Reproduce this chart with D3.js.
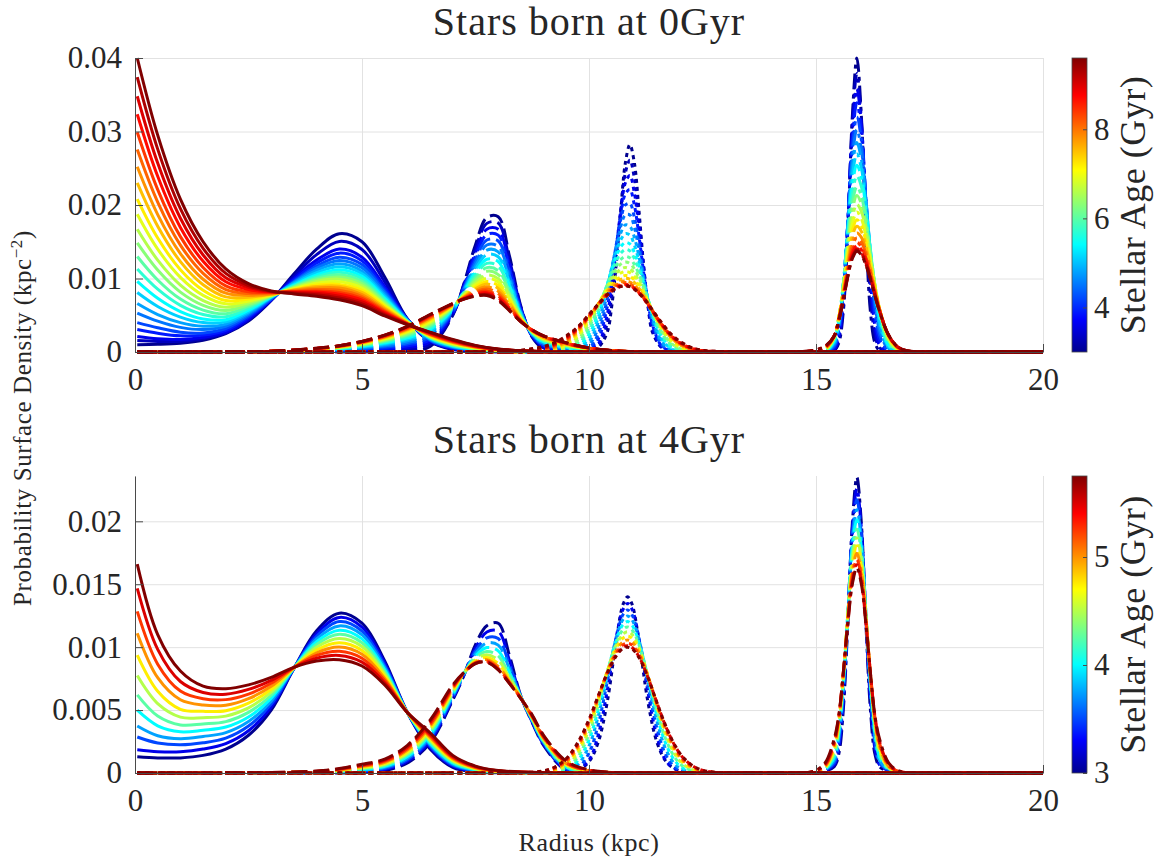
<!DOCTYPE html>
<html><head><meta charset="utf-8">
<script src="https://cdn.jsdelivr.net/npm/d3@7"></script>
<style>
body{margin:0;background:#fff}
svg text{font-family:"Liberation Serif","Times New Roman",serif;fill:#262626}
</style></head>
<body><svg id="chart" width="1157" height="858"></svg>
<script>
// ---------------- DATA ----------------
// densities are given in units of 1e-3 kpc^-2
const yUnit = 0.001;
const xTickValues = [0, 5, 10, 15, 20];
const xTickLabels = ["0", "5", "10", "15", "20"];
const topYTickValues = [0, 0.01, 0.02, 0.03, 0.04];
const topYTickLabels = ["0", "0.01", "0.02", "0.03", "0.04"];
const bottomYTickValues = [0, 0.005, 0.01, 0.015, 0.02];
const bottomYTickLabels = ["0", "0.005", "0.01", "0.015", "0.02"];
const topAges = [3.0,3.3,3.6,3.9,4.2,4.5,4.8,5.1,5.4,5.7,6.0,6.3,6.6,6.9,7.2,7.5,7.8,8.1,8.4,8.7,9.0,9.3,9.6];
const bottomAges = [3.0,3.25,3.5,3.75,4.0,4.25,4.5,4.75,5.0,5.25,5.5,5.75];
const topCbarTicks = [4, 6, 8];
const bottomCbarTicks = [3, 4, 5];
const jetStops = [0, 0.111, 0.365, 0.619, 0.873, 1];
const jetColors = ["#00008f", "#0000ff", "#00ffff", "#ffff00", "#ff0000", "#800000"];

// radius grids (kpc)
const solidX = [0.05,0.5,1,1.5,2,2.5,3,3.5,4,4.5,5,5.5,6,6.5,7,7.5,8,9,10,20];
const dashedX = [0.05,2,3,4,4.5,5,5.5,6,6.5,7,7.25,7.5,7.75,8,8.25,8.5,8.75,9,9.5,10,10.5,11,12,20];
const topDottedX = [0.05,7.5,8,8.5,9,9.25,9.5,9.75,10,10.2,10.4,10.5,10.6,10.7,10.8,10.9,11,11.1,11.2,11.3,11.4,11.6,11.8,12,12.25,12.5,13,13.5,20];
const topDashDotX = [0.05,14,14.5,14.8,15,15.2,15.4,15.5,15.6,15.7,15.8,15.9,16,16.1,16.2,16.3,16.4,16.6,16.8,17,17.3,17.6,20];
const bottomDottedX = [0.05,7.5,8,8.5,9,9.25,9.5,9.75,10,10.2,10.4,10.6,10.75,10.85,10.95,11.1,11.3,11.5,11.7,11.9,12.1,12.4,12.8,13.5,20];
const bottomDashDotX = [0.05,14,14.5,14.8,15,15.2,15.4,15.5,15.6,15.7,15.8,15.9,16,16.1,16.2,16.3,16.4,16.6,16.8,17,17.3,20];

// top panel (born at 0 Gyr), one row per age in topAges
const topSolidY = [
[1.0,1.05,1.2,1.6,2.5,4.2,7.0,10.6,14.0,16.1,15.0,10.2,4.5,1.4,0.35,0.08,0.02,0,0,0],
[1.55,1.43,1.45,1.8,2.6,4.35,7.05,10.3,13.25,15.05,13.95,9.55,4.45,1.45,0.41,0.12,0.04,0,0,0],
[2.1,1.8,1.7,2.0,2.7,4.5,7.1,10.0,12.5,14.0,12.9,8.9,4.4,1.5,0.47,0.15,0.05,0,0,0],
[3.05,2.55,2.2,2.3,2.95,4.7,7.15,9.8,12.1,13.45,12.4,8.6,4.4,1.55,0.54,0.19,0.07,0.01,0,0],
[4.0,3.3,2.7,2.6,3.2,4.9,7.2,9.6,11.7,12.9,11.9,8.3,4.4,1.6,0.6,0.23,0.09,0.01,0,0],
[5.3,4.2,3.35,3.05,3.5,5.1,7.3,9.5,11.4,12.45,11.45,8.05,4.35,1.68,0.66,0.27,0.11,0.01,0,0],
[6.6,5.1,4.0,3.5,3.8,5.3,7.4,9.4,11.1,12.0,11.0,7.8,4.3,1.75,0.72,0.3,0.12,0.01,0,0],
[8.1,6.2,4.75,4.0,4.1,5.5,7.45,9.25,10.8,11.6,10.65,7.55,4.25,1.83,0.78,0.34,0.14,0.02,0,0],
[9.6,7.3,5.5,4.5,4.4,5.7,7.5,9.1,10.5,11.2,10.3,7.3,4.2,1.9,0.84,0.38,0.16,0.02,0,0],
[11.3,8.55,6.35,5.1,4.8,5.95,7.55,9.0,10.25,10.85,9.95,7.1,4.15,1.95,0.9,0.42,0.18,0.02,0,0],
[13.0,9.8,7.2,5.7,5.2,6.2,7.6,8.9,10.0,10.5,9.6,6.9,4.1,2.0,0.96,0.45,0.19,0.02,0,0],
[14.85,11.15,8.15,6.35,5.65,6.45,7.65,8.8,9.8,10.2,9.3,6.7,4.1,2.05,1.03,0.49,0.21,0.03,0,0],
[16.7,12.5,9.1,7.0,6.1,6.7,7.7,8.7,9.6,9.9,9.0,6.5,4.1,2.1,1.09,0.53,0.23,0.03,0,0],
[18.75,14.0,10.15,7.7,6.55,6.95,7.75,8.6,9.35,9.55,8.7,6.35,4.05,2.15,1.15,0.57,0.25,0.03,0,0],
[20.8,15.5,11.2,8.4,7.0,7.2,7.8,8.5,9.1,9.2,8.4,6.2,4.0,2.2,1.21,0.6,0.26,0.03,0,0],
[23.0,17.1,12.3,9.15,7.5,7.45,7.85,8.45,8.9,8.95,8.1,6.0,3.95,2.28,1.27,0.64,0.28,0.04,0,0],
[25.2,18.7,13.4,9.9,8.0,7.7,7.9,8.4,8.7,8.7,7.8,5.8,3.9,2.35,1.33,0.68,0.3,0.04,0,0],
[27.55,20.4,14.55,10.7,8.5,7.95,8.0,8.3,8.5,8.4,7.55,5.65,3.85,2.4,1.39,0.72,0.32,0.04,0,0],
[29.9,22.1,15.7,11.5,9.0,8.2,8.1,8.2,8.3,8.1,7.3,5.5,3.8,2.45,1.45,0.75,0.33,0.04,0,0],
[32.35,23.9,16.95,12.35,9.55,8.5,8.15,8.15,8.15,7.85,7.05,5.35,3.8,2.53,1.52,0.79,0.35,0.05,0,0],
[34.8,25.7,18.2,13.2,10.1,8.8,8.2,8.1,8.0,7.6,6.8,5.2,3.8,2.6,1.58,0.83,0.37,0.05,0,0],
[37.4,27.6,19.5,14.1,10.7,9.05,8.25,8.0,7.8,7.35,6.55,5.05,3.75,2.65,1.64,0.87,0.39,0.05,0,0],
[40.0,29.5,20.8,15.0,11.3,9.3,8.3,7.9,7.6,7.1,6.3,4.9,3.7,2.7,1.7,0.9,0.4,0.05,0,0]];
const topDashedY = [
[0,0,0,0,0,0,0.01,0.1,0.74,5.0,9.4,14.6,18.3,18.4,13.0,6.2,2.0,0.43,0.02,0,0,0,0,0],
[0,0,0.01,0.04,0.07,0.11,0.18,0.36,1.07,5.12,9.24,14.08,17.5,17.55,12.45,6.05,2.08,0.57,0.11,0.04,0.02,0.01,0,0],
[0,0,0.02,0.08,0.13,0.22,0.35,0.61,1.39,5.24,9.07,13.55,16.71,16.69,11.89,5.89,2.15,0.7,0.2,0.08,0.03,0.01,0,0],
[0,0.01,0.03,0.11,0.19,0.32,0.51,0.85,1.7,5.35,8.92,13.07,15.98,15.9,11.38,5.74,2.22,0.82,0.29,0.12,0.05,0.02,0,0],
[0,0.01,0.03,0.14,0.25,0.42,0.67,1.08,2.0,5.46,8.76,12.58,15.24,15.11,10.86,5.59,2.29,0.94,0.38,0.16,0.06,0.02,0,0],
[0,0.01,0.04,0.18,0.31,0.52,0.82,1.3,2.28,5.57,8.62,12.13,14.56,14.37,10.39,5.46,2.36,1.06,0.46,0.2,0.07,0.03,0,0],
[0,0.01,0.04,0.21,0.36,0.61,0.97,1.52,2.56,5.67,8.48,11.67,13.87,13.63,9.91,5.32,2.42,1.17,0.53,0.23,0.08,0.03,0,0],
[0,0.01,0.05,0.24,0.41,0.7,1.11,1.72,2.82,5.77,8.35,11.26,13.25,12.96,9.47,5.2,2.48,1.28,0.61,0.26,0.1,0.03,0,0],
[0,0.01,0.05,0.27,0.46,0.78,1.24,1.92,3.08,5.86,8.22,10.85,12.62,12.29,9.03,5.07,2.54,1.38,0.68,0.29,0.11,0.03,0,0],
[0,0.01,0.06,0.3,0.51,0.86,1.36,2.11,3.31,5.95,8.11,10.48,12.05,11.68,8.64,4.96,2.59,1.48,0.75,0.32,0.12,0.04,0,0],
[0,0.01,0.06,0.32,0.55,0.93,1.48,2.29,3.54,6.03,7.99,10.1,11.48,11.07,8.24,4.85,2.64,1.57,0.81,0.35,0.13,0.04,0,0],
[0,0.01,0.07,0.35,0.59,1.0,1.59,2.45,3.75,6.11,7.89,9.77,10.98,10.53,7.89,4.75,2.69,1.66,0.87,0.38,0.14,0.04,0,0],
[0,0.01,0.07,0.37,0.63,1.07,1.7,2.61,3.96,6.18,7.78,9.43,10.48,9.99,7.54,4.65,2.74,1.74,0.93,0.41,0.15,0.04,0,0],
[0,0.02,0.08,0.39,0.67,1.13,1.8,2.75,4.14,6.25,7.69,9.14,10.04,9.52,7.23,4.57,2.78,1.81,0.98,0.43,0.16,0.05,0,0],
[0,0.02,0.08,0.41,0.7,1.19,1.89,2.89,4.32,6.31,7.59,8.85,9.6,9.04,6.92,4.48,2.82,1.88,1.03,0.45,0.16,0.05,0,0],
[0,0.02,0.09,0.43,0.73,1.24,1.97,3.01,4.47,6.37,7.52,8.61,9.24,8.65,6.67,4.41,2.86,1.95,1.07,0.47,0.17,0.05,0,0],
[0,0.02,0.09,0.45,0.76,1.29,2.05,3.13,4.62,6.42,7.44,8.37,8.87,8.25,6.41,4.33,2.89,2.01,1.11,0.49,0.18,0.05,0,0],
[0,0.02,0.09,0.46,0.78,1.33,2.11,3.22,4.74,6.47,7.38,8.18,8.58,7.94,6.21,4.28,2.92,2.06,1.15,0.51,0.19,0.06,0,0],
[0,0.02,0.09,0.47,0.8,1.37,2.17,3.31,4.86,6.51,7.32,7.99,8.28,7.63,6.0,4.22,2.95,2.1,1.18,0.52,0.19,0.06,0,0],
[0,0.02,0.1,0.48,0.82,1.4,2.22,3.38,4.95,6.54,7.28,7.86,8.08,7.41,5.87,4.18,2.97,2.14,1.21,0.53,0.2,0.06,0,0],
[0,0.02,0.1,0.49,0.84,1.43,2.26,3.44,5.03,6.57,7.24,7.72,7.88,7.19,5.73,4.14,2.98,2.17,1.23,0.54,0.2,0.06,0,0],
[0,0.02,0.1,0.5,0.85,1.44,2.28,3.47,5.07,6.59,7.22,7.66,7.79,7.1,5.67,4.12,2.99,2.19,1.24,0.55,0.2,0.06,0,0],
[0,0.02,0.1,0.5,0.85,1.45,2.3,3.5,5.1,6.6,7.2,7.6,7.7,7.0,5.6,4.1,3.0,2.2,1.25,0.55,0.2,0.06,0,0]];
const topDottedY = [
[0,0,0,0,0,0,0,0,0.15,0.6,2.66,6.2,12.0,19.3,25.7,28.2,25.7,19.3,12.0,6.2,2.66,0.6,0.12,0.02,0,0,0,0,0],
[0,0,0,0,0,0,0,0,0.18,0.82,3.83,7.6,13.05,19.25,24.35,26.1,23.65,18.1,11.7,6.4,2.98,0.65,0.14,0.03,0,0,0,0,0],
[0,0,0,0,0,0,0,0,0.2,1.03,5.0,9.0,14.1,19.2,23.0,24.0,21.6,16.9,11.4,6.6,3.3,0.7,0.15,0.03,0,0,0,0,0],
[0,0,0,0,0,0,0,0.03,0.37,1.72,6.1,9.9,14.35,18.6,21.5,22.1,19.95,15.85,11.0,6.75,3.65,0.82,0.15,0.02,0,0,0,0,0],
[0,0,0,0,0,0,0,0.05,0.54,2.4,7.2,10.8,14.6,18.0,20.0,20.2,18.3,14.8,10.6,6.9,4.0,0.94,0.14,0.01,0,0,0,0,0],
[0,0,0,0,0,0,0.02,0.15,0.97,3.2,7.95,11.15,14.4,17.1,18.65,18.65,16.95,13.9,10.25,6.95,4.25,1.19,0.23,0.03,0,0,0,0,0],
[0,0,0,0,0,0,0.03,0.25,1.4,4.0,8.7,11.5,14.2,16.2,17.3,17.1,15.6,13.0,9.9,7.0,4.5,1.43,0.32,0.05,0,0,0,0,0],
[0,0,0,0,0,0.01,0.09,0.47,1.9,4.6,8.95,11.35,13.6,15.25,16.1,15.9,14.55,12.35,9.7,7.1,4.8,1.77,0.49,0.11,0.01,0,0,0,0],
[0,0,0,0,0,0.02,0.14,0.69,2.4,5.2,9.2,11.2,13.0,14.3,14.9,14.7,13.5,11.7,9.5,7.2,5.1,2.1,0.65,0.16,0.02,0,0,0,0],
[0,0,0,0,0.01,0.06,0.27,1.0,2.9,5.6,9.15,10.9,12.4,13.45,13.95,13.75,12.7,11.15,9.2,7.15,5.25,2.38,0.86,0.25,0.04,0.01,0,0,0],
[0,0,0,0,0.02,0.09,0.4,1.3,3.4,6.0,9.1,10.6,11.8,12.6,13.0,12.8,11.9,10.6,8.9,7.1,5.4,2.65,1.06,0.34,0.06,0.01,0,0,0],
[0,0,0,0,0.05,0.17,0.59,1.65,3.75,6.2,8.95,10.25,11.25,11.95,12.25,12.05,11.3,10.1,8.6,7.0,5.45,2.88,1.26,0.46,0.1,0.02,0,0,0],
[0,0,0,0,0.07,0.25,0.78,2.0,4.1,6.4,8.8,9.9,10.7,11.3,11.5,11.3,10.7,9.6,8.3,6.9,5.5,3.1,1.45,0.57,0.14,0.03,0,0,0],
[0,0,0,0.01,0.12,0.36,0.97,2.25,4.3,6.45,8.6,9.55,10.25,10.75,10.95,10.8,10.25,9.3,8.15,6.85,5.55,3.3,1.66,0.72,0.21,0.05,0,0,0],
[0,0,0,0.01,0.16,0.46,1.15,2.5,4.5,6.5,8.4,9.2,9.8,10.2,10.4,10.3,9.8,9.0,8.0,6.8,5.6,3.5,1.86,0.87,0.27,0.07,0,0,0],
[0,0,0,0.02,0.22,0.58,1.33,2.7,4.65,6.5,8.25,8.95,9.5,9.88,10.03,9.9,9.45,8.7,7.8,6.7,5.6,3.55,1.98,0.97,0.33,0.1,0.01,0,0],
[0,0,0,0.03,0.27,0.69,1.5,2.9,4.8,6.5,8.1,8.7,9.2,9.55,9.65,9.5,9.1,8.4,7.6,6.6,5.6,3.6,2.1,1.07,0.39,0.12,0.01,0,0],
[0,0,0.01,0.07,0.39,0.82,1.65,3.0,4.8,6.45,8.0,8.55,9.05,9.35,9.44,9.3,8.9,8.25,7.5,6.55,5.6,3.68,2.18,1.14,0.44,0.14,0.02,0,0],
[0,0,0.01,0.1,0.5,0.95,1.8,3.1,4.8,6.4,7.9,8.4,8.9,9.14,9.23,9.1,8.7,8.1,7.4,6.5,5.6,3.75,2.25,1.21,0.48,0.16,0.02,0,0],
[0,0.01,0.03,0.13,0.55,1.03,1.9,3.18,4.9,6.4,7.8,8.35,8.8,9.05,9.14,9.0,8.65,8.05,7.35,6.45,5.55,3.78,2.28,1.26,0.52,0.18,0.03,0,0],
[0,0.01,0.04,0.15,0.6,1.1,2.0,3.25,5.0,6.4,7.7,8.3,8.7,8.95,9.04,8.9,8.6,8.0,7.3,6.4,5.5,3.8,2.3,1.3,0.55,0.2,0.04,0,0],
[0,0.02,0.06,0.2,0.68,1.2,2.1,3.33,5.05,6.45,7.75,8.3,8.7,8.93,9.02,8.9,8.58,8.0,7.35,6.5,5.6,3.9,2.4,1.38,0.59,0.22,0.05,0.01,0],
[0,0.02,0.08,0.25,0.75,1.3,2.2,3.4,5.1,6.5,7.8,8.3,8.7,8.9,9.0,8.9,8.55,8.0,7.4,6.6,5.7,4.0,2.5,1.46,0.63,0.23,0.05,0.01,0]];
const topDashDotY = [
[0,0,0,0,0,0,0.2,1.2,5.4,16.4,32.0,40.0,32.0,16.4,5.4,1.2,0.2,0.02,0,0,0,0,0],
[0,0,0,0,0,0.01,0.3,1.6,6.3,16.95,30.95,37.9,31.45,18.2,7.55,2.33,0.57,0.03,0,0,0,0,0],
[0,0,0,0,0,0.02,0.4,2.0,7.2,17.5,29.9,35.8,30.9,20.0,9.7,3.45,0.93,0.03,0,0,0,0,0],
[0,0,0,0,0,0.02,0.59,2.45,7.8,17.55,28.75,33.9,29.85,20.45,11.0,4.63,1.6,0.11,0,0,0,0,0],
[0,0,0,0,0,0.02,0.77,2.9,8.4,17.6,27.6,32.0,28.8,20.9,12.3,5.8,2.26,0.18,0,0,0,0,0],
[0,0,0,0,0,0.04,0.97,3.3,8.7,17.35,26.35,30.25,27.5,20.7,12.9,6.7,2.93,0.34,0.02,0,0,0,0],
[0,0,0,0,0,0.05,1.17,3.7,9.0,17.1,25.1,28.5,26.2,20.5,13.5,7.6,3.6,0.5,0.03,0,0,0,0],
[0,0,0,0,0,0.08,1.35,3.95,9.1,16.65,23.9,26.95,25.0,19.95,13.7,8.15,4.15,0.73,0.07,0,0,0,0],
[0,0,0,0,0,0.1,1.53,4.2,9.2,16.2,22.7,25.4,23.8,19.4,13.9,8.7,4.7,0.95,0.11,0,0,0,0],
[0,0,0,0,0.02,0.15,1.68,4.35,9.15,15.65,21.5,23.95,22.5,18.65,13.7,8.85,5.05,1.16,0.17,0.01,0,0,0],
[0,0,0,0,0.04,0.2,1.83,4.5,9.1,15.1,20.3,22.5,21.2,17.9,13.5,9.0,5.4,1.37,0.22,0.02,0,0,0],
[0,0,0,0.01,0.06,0.25,1.92,4.55,8.95,14.5,19.3,21.3,20.15,17.2,13.15,9.05,5.6,1.56,0.29,0.04,0,0,0],
[0,0,0,0.02,0.07,0.3,2.0,4.6,8.8,13.9,18.3,20.1,19.1,16.5,12.8,9.1,5.8,1.75,0.36,0.05,0,0,0],
[0,0,0,0.03,0.09,0.35,2.05,4.6,8.55,13.35,17.4,19.05,18.15,15.75,12.4,8.95,5.85,1.88,0.42,0.07,0,0,0],
[0,0,0,0.03,0.1,0.4,2.1,4.6,8.3,12.8,16.5,18.0,17.2,15.0,12.0,8.8,5.9,2.0,0.48,0.08,0,0,0],
[0,0,0,0.04,0.13,0.45,2.13,4.55,8.05,12.25,15.75,17.1,16.4,14.4,11.6,8.6,5.85,2.1,0.53,0.1,0.01,0,0],
[0,0,0,0.04,0.15,0.5,2.15,4.5,7.8,11.7,15.0,16.2,15.6,13.8,11.2,8.4,5.8,2.2,0.58,0.11,0.01,0,0],
[0,0,0,0.05,0.18,0.55,2.18,4.43,7.63,11.33,14.4,15.55,14.95,13.3,10.85,8.2,5.75,2.23,0.62,0.13,0.01,0,0],
[0,0,0,0.06,0.2,0.6,2.2,4.35,7.45,10.95,13.8,14.9,14.3,12.8,10.5,8.0,5.7,2.25,0.65,0.14,0.01,0,0],
[0,0,0,0.07,0.23,0.65,2.19,4.31,7.33,10.68,13.4,14.48,13.9,12.45,10.3,7.88,5.63,2.27,0.67,0.15,0.01,0,0],
[0,0,0,0.08,0.25,0.7,2.17,4.26,7.2,10.4,13.0,14.05,13.5,12.1,10.1,7.75,5.55,2.28,0.69,0.16,0.01,0,0],
[0,0,0.01,0.09,0.28,0.75,2.16,4.23,7.1,10.3,12.85,13.88,13.35,11.95,10.0,7.68,5.53,2.29,0.7,0.16,0.01,0,0],
[0,0,0.02,0.1,0.3,0.8,2.15,4.2,7.0,10.2,12.7,13.7,13.2,11.8,9.9,7.6,5.5,2.3,0.71,0.16,0.01,0,0]];

// bottom panel (born at 4 Gyr), one row per age in bottomAges
const bottomSolidY = [
[1.3,1.2,1.2,1.4,1.9,3.0,5.0,8.3,11.3,12.7,11.9,8.9,4.8,1.9,0.45,0.08,0.01,0,0,0],
[1.84,1.69,1.68,1.9,2.34,3.36,5.24,8.31,11.08,12.36,11.59,8.73,4.8,2.02,0.54,0.12,0.03,0,0,0],
[2.86,2.38,2.24,2.4,2.77,3.73,5.47,8.32,10.86,12.03,11.28,8.55,4.8,2.14,0.62,0.17,0.04,0,0,0],
[3.73,2.96,2.72,2.9,3.21,4.09,5.71,8.33,10.65,11.69,10.97,8.38,4.8,2.25,0.71,0.21,0.06,0.01,0,0],
[4.99,3.75,3.27,3.4,3.65,4.45,5.95,8.34,10.43,11.35,10.66,8.21,4.8,2.37,0.8,0.25,0.08,0.01,0,0],
[6.21,4.53,3.82,3.9,4.08,4.82,6.18,8.35,10.21,11.02,10.35,8.04,4.8,2.49,0.88,0.29,0.1,0.01,0,0],
[7.74,5.51,4.44,4.4,4.52,5.18,6.42,8.35,9.99,10.68,10.05,7.86,4.8,2.61,0.97,0.34,0.11,0.01,0,0],
[9.36,6.49,5.06,4.9,4.95,5.55,6.65,8.36,9.77,10.35,9.74,7.69,4.8,2.73,1.05,0.38,0.13,0.01,0,0],
[11.11,7.57,5.82,5.4,5.39,5.91,6.89,8.37,9.55,10.01,9.43,7.52,4.8,2.85,1.14,0.42,0.15,0.01,0,0],
[12.84,8.65,6.51,5.9,5.83,6.27,7.13,8.38,9.34,9.67,9.12,7.35,4.8,2.96,1.23,0.46,0.17,0.02,0,0],
[14.67,9.82,7.27,6.4,6.26,6.64,7.36,8.39,9.12,9.34,8.81,7.17,4.8,3.08,1.31,0.51,0.18,0.02,0,0],
[16.6,11.0,8.1,6.9,6.7,7.0,7.6,8.4,8.9,9.0,8.5,7.0,4.8,3.2,1.4,0.55,0.2,0.02,0,0]];
const bottomDashedY = [
[0,0,0,0,0,0.04,0.2,0.8,2.4,5.8,7.8,10.2,11.7,11.9,9.3,6.1,4.0,2.2,0.2,0,0,0,0,0],
[0,0,0,0.01,0.03,0.1,0.28,0.93,2.56,5.91,7.83,9.94,11.2,11.26,8.92,6.08,4.05,2.27,0.27,0.02,0,0,0,0],
[0,0,0.01,0.03,0.06,0.16,0.36,1.05,2.73,6.02,7.87,9.7,10.74,10.68,8.57,6.06,4.11,2.35,0.34,0.05,0.01,0,0,0],
[0,0,0.01,0.04,0.1,0.22,0.45,1.18,2.89,6.13,7.89,9.49,10.33,10.16,8.26,6.05,4.16,2.42,0.4,0.07,0.01,0,0,0],
[0,0,0.01,0.05,0.13,0.28,0.53,1.31,3.05,6.24,7.92,9.31,9.97,9.7,7.99,6.03,4.22,2.49,0.47,0.09,0.02,0,0,0],
[0,0.01,0.02,0.07,0.16,0.34,0.61,1.44,3.22,6.35,7.94,9.15,9.66,9.3,7.76,6.01,4.27,2.56,0.54,0.11,0.02,0,0,0],
[0,0.01,0.02,0.08,0.19,0.4,0.69,1.56,3.38,6.45,7.96,9.01,9.4,8.97,7.56,5.99,4.33,2.64,0.61,0.14,0.03,0,0,0],
[0,0.01,0.03,0.1,0.22,0.46,0.77,1.69,3.55,6.56,7.97,8.9,9.18,8.69,7.39,5.97,4.38,2.71,0.68,0.16,0.03,0,0,0],
[0,0.01,0.03,0.11,0.25,0.52,0.85,1.82,3.71,6.67,7.99,8.81,9.01,8.47,7.26,5.95,4.44,2.78,0.75,0.18,0.04,0,0,0],
[0,0.01,0.03,0.12,0.29,0.58,0.94,1.95,3.87,6.78,7.99,8.75,8.9,8.32,7.17,5.94,4.49,2.85,0.81,0.2,0.04,0,0,0],
[0,0.01,0.04,0.14,0.32,0.64,1.02,2.07,4.04,6.89,8.0,8.71,8.82,8.23,7.12,5.92,4.55,2.93,0.88,0.23,0.05,0,0,0],
[0,0.01,0.04,0.15,0.35,0.7,1.1,2.2,4.2,7.0,8.0,8.7,8.8,8.2,7.1,5.9,4.6,3.0,0.95,0.25,0.05,0,0,0]];
const bottomDottedY = [
[0,0,0,0,0,0.02,0.06,0.2,0.9,2.4,5.6,10.5,13.4,14.0,13.4,10.5,5.6,2.4,0.9,0.3,0.1,0.02,0,0,0],
[0,0,0,0,0,0.02,0.08,0.3,1.02,2.97,6.5,10.8,13.0,13.47,13.0,10.7,6.4,2.83,0.94,0.35,0.12,0.03,0,0,0],
[0,0,0,0,0,0.03,0.12,0.38,1.58,3.8,7.2,10.8,12.6,12.96,12.56,10.7,6.9,3.5,1.38,0.43,0.15,0.03,0,0,0],
[0,0,0,0,0,0.05,0.15,0.65,2.15,4.46,7.6,10.7,12.2,12.48,12.15,10.6,7.3,4.07,1.83,0.67,0.2,0.04,0,0,0],
[0,0,0,0,0.01,0.06,0.26,0.95,2.63,4.95,7.9,10.55,11.8,12.03,11.75,10.4,7.5,4.5,2.25,0.93,0.32,0.05,0,0,0],
[0,0,0,0,0.02,0.11,0.41,1.26,3.08,5.35,8.0,10.35,11.4,11.61,11.37,10.2,7.65,4.85,2.6,1.19,0.46,0.08,0,0,0],
[0,0,0,0,0.04,0.17,0.57,1.55,3.45,5.63,8.06,10.13,11.04,11.22,11.0,10.0,7.7,5.1,2.92,1.44,0.61,0.13,0.01,0,0],
[0,0,0,0,0.07,0.24,0.72,1.8,3.72,5.81,8.05,9.91,10.72,10.88,10.7,9.78,7.7,5.28,3.16,1.65,0.75,0.18,0.02,0,0],
[0,0,0,0.01,0.1,0.32,0.88,2.03,3.94,5.94,8.0,9.7,10.42,10.57,10.4,9.58,7.68,5.41,3.37,1.85,0.89,0.24,0.03,0,0],
[0,0,0,0.01,0.13,0.39,1.0,2.19,4.09,6.0,7.96,9.52,10.18,10.31,10.16,9.39,7.62,5.48,3.51,1.99,1.0,0.29,0.04,0,0],
[0,0,0,0.01,0.16,0.45,1.1,2.32,4.2,6.05,7.9,9.37,9.99,10.11,9.97,9.25,7.58,5.54,3.62,2.11,1.1,0.33,0.05,0,0],
[0,0,0,0.02,0.17,0.48,1.15,2.4,4.25,6.1,7.9,9.3,9.9,10.0,9.86,9.17,7.55,5.56,3.67,2.16,1.14,0.35,0.05,0,0]];
const bottomDashDotY = [
[0,0,0,0,0.03,0.15,0.5,1.47,4.95,11.8,19.8,23.5,19.8,11.8,4.95,1.47,0.5,0.15,0.03,0,0,0],
[0,0,0,0,0.04,0.19,0.65,1.91,5.6,12.2,19.4,22.6,19.4,12.2,5.6,1.91,0.65,0.19,0.04,0,0,0],
[0,0,0,0,0.05,0.22,0.8,2.37,6.25,12.5,18.9,21.74,18.9,12.5,6.25,2.37,0.8,0.22,0.05,0,0,0],
[0,0,0,0,0.06,0.26,1.0,2.78,6.7,12.6,18.4,20.91,18.4,12.6,6.7,2.78,1.0,0.26,0.06,0,0,0],
[0,0,0,0.01,0.07,0.3,1.25,3.14,7.08,12.6,17.9,20.12,17.9,12.6,7.08,3.14,1.25,0.3,0.07,0.01,0,0],
[0,0,0,0.01,0.08,0.35,1.5,3.49,7.38,12.6,17.4,19.38,17.4,12.6,7.38,3.49,1.5,0.35,0.08,0.01,0,0],
[0,0,0,0.01,0.09,0.4,1.7,3.78,7.59,12.5,16.9,18.69,16.9,12.5,7.59,3.78,1.7,0.4,0.09,0.01,0,0],
[0,0,0,0.02,0.1,0.45,1.95,4.0,7.74,12.4,16.4,18.05,16.4,12.4,7.74,4.0,1.95,0.45,0.1,0.02,0,0],
[0,0,0,0.02,0.12,0.52,2.15,4.2,7.84,12.2,16.0,17.47,16.0,12.2,7.84,4.2,2.15,0.52,0.12,0.02,0,0],
[0,0,0,0.02,0.14,0.6,2.35,4.35,7.9,12.1,15.6,16.96,15.6,12.1,7.9,4.35,2.35,0.6,0.14,0.02,0,0],
[0,0,0,0.03,0.17,0.7,2.5,4.46,7.9,11.9,15.2,16.55,15.2,11.9,7.9,4.46,2.5,0.7,0.17,0.03,0,0],
[0,0,0,0.03,0.2,0.8,2.7,4.5,7.9,11.8,15.0,16.3,15.0,11.8,7.9,4.5,2.7,0.8,0.2,0.03,0,0]];

// ---------------- DRAWING ----------------
const svg = d3.select("#chart");
const plotLeft = 135, plotRight = 1043;
const x = d3.scaleLinear().domain([0, 20]).range([plotLeft, plotRight]);
const axisColor = "#262626", axisLineColor = "#4a4a4a", gridColor = "#e2e2e2";
const tickFont = 31;

const styles = [
  {dash: null},
  {dash: "16,6"},
  {dash: "4,4"},
  {dash: "16,5,4,5"}
];

const panels = [
  {title: "Stars born at 0Gyr", top: 58, bottom: 352, yMax: 0.04, yTicks: topYTickValues, yLabels: topYTickLabels,
   ages: topAges, cbarTicks: topCbarTicks,
   fams: [[solidX, topSolidY], [dashedX, topDashedY], [topDottedX, topDottedY], [topDashDotX, topDashDotY]]},
  {title: "Stars born at 4Gyr", top: 476, bottom: 773, yMax: 0.0236, yTicks: bottomYTickValues, yLabels: bottomYTickLabels,
   ages: bottomAges, cbarTicks: bottomCbarTicks,
   fams: [[solidX, bottomSolidY], [dashedX, bottomDashedY], [bottomDottedX, bottomDottedY], [bottomDashDotX, bottomDashDotY]]}
];

const defs = svg.append("defs");

panels.forEach((p, pi) => {
  const g = svg.append("g");
  const y = d3.scaleLinear().domain([0, p.yMax]).range([p.bottom, p.top]);
  const h = p.bottom - p.top, w = plotRight - plotLeft;

  // grid
  g.append("g").attr("transform", `translate(0,${p.bottom})`)
    .call(d3.axisBottom(x).tickValues(xTickValues).tickSize(-h).tickSizeOuter(0).tickFormat(""))
    .call(s => s.select(".domain").remove())
    .call(s => s.selectAll("line").attr("stroke", gridColor).attr("stroke-width", 1));
  g.append("g").attr("transform", `translate(${plotLeft},0)`)
    .call(d3.axisLeft(y).tickValues(p.yTicks).tickSize(-w).tickSizeOuter(0).tickFormat(""))
    .call(s => s.select(".domain").remove())
    .call(s => s.selectAll("line").attr("stroke", gridColor).attr("stroke-width", 1));

  // colour scale (jet)
  const aMin = d3.min(p.ages), aMax = d3.max(p.ages);
  const color = d3.scaleLinear().domain(jetStops.map(s => aMin + s * (aMax - aMin))).range(jetColors);

  const line = d3.line().x(d => x(d[0])).y(d => y(d[1] * yUnit)).curve(d3.curveCatmullRom.alpha(0.5));

  const curves = g.append("g");
  p.ages.forEach((age, k) => {
    p.fams.forEach((f, fi) => {
      const row = f[1][k];
      if (!row) return;
      const pts = f[0].map((xv, i) => [xv, row[i]]);
      curves.append("path")
        .attr("d", line(pts))
        .attr("fill", "none")
        .attr("stroke", color(age))
        .attr("stroke-width", 3)
        .attr("stroke-dasharray", styles[fi].dash)
        .attr("stroke-linejoin", "round");
    });
  });

  // axes
  const ay = g.append("g").attr("transform", `translate(${plotLeft},0)`)
    .call(d3.axisLeft(y).tickValues(p.yTicks).tickFormat((d, i) => p.yLabels[i]).tickSizeInner(-8).tickSizeOuter(0).tickPadding(13));
  const ax = g.append("g").attr("transform", `translate(0,${p.bottom})`)
    .call(d3.axisBottom(x).tickValues(xTickValues).tickFormat((d, i) => xTickLabels[i]).tickSizeInner(-8).tickSizeOuter(0).tickPadding(13));
  [ay, ax].forEach(a => {
    a.select(".domain").attr("stroke", axisLineColor).attr("stroke-width", 1);
    a.selectAll(".tick line").attr("stroke", axisLineColor).attr("stroke-width", 1);
    a.selectAll(".tick text").attr("font-size", tickFont).attr("fill", axisColor)
      .style("font-family", '"Liberation Serif", serif');
  });
  ax.selectAll(".tick text").attr("dy", "0.8em");

  // title
  svg.append("text").attr("x", (plotLeft + plotRight) / 2).attr("y", p.top - 23)
    .attr("text-anchor", "middle").attr("font-size", 40).attr("letter-spacing", 1).text(p.title);

  // colourbar
  const cbx = 1072, cbw = 15;
  const gid = "jetgrad" + pi;
  const grad = defs.append("linearGradient").attr("id", gid).attr("x1", 0).attr("y1", 1).attr("x2", 0).attr("y2", 0);
  jetStops.forEach((s, i) => grad.append("stop").attr("offset", s).attr("stop-color", jetColors[i]));
  svg.append("rect").attr("x", cbx).attr("y", p.top).attr("width", cbw).attr("height", h)
    .attr("fill", `url(#${gid})`).attr("stroke", axisLineColor).attr("stroke-width", 0.8);
  const cs = d3.scaleLinear().domain([aMin, aMax]).range([p.bottom, p.top]);
  const ca = svg.append("g").attr("transform", `translate(${cbx + cbw},0)`)
    .call(d3.axisRight(cs).tickValues(p.cbarTicks).tickFormat(d3.format("d")).tickSizeInner(-4).tickSizeOuter(0).tickPadding(7));
  ca.select(".domain").remove();
  ca.selectAll(".tick line").attr("stroke", axisLineColor);
  ca.selectAll(".tick text").attr("font-size", tickFont).attr("fill", axisColor).style("font-family", '"Liberation Serif", serif');
  svg.append("text")
    .attr("transform", `translate(1145,${(p.top + p.bottom) / 2}) rotate(-90)`)
    .attr("text-anchor", "middle").attr("font-size", 36).attr("letter-spacing", 0.5).text("Stellar Age (Gyr)");
});

// shared axis labels
svg.append("text").attr("x", 589).attr("y", 851).attr("text-anchor", "middle")
  .attr("font-size", 26).attr("letter-spacing", 0.6).text("Radius (kpc)");
const yl = svg.append("text").attr("transform", "translate(31,418) rotate(-90)")
  .attr("text-anchor", "middle").attr("font-size", 25).attr("letter-spacing", 0.6);
yl.append("tspan").text("Probability Surface Density (kpc");
yl.append("tspan").attr("baseline-shift", "super").attr("font-size", 17).text("\u22122");
yl.append("tspan").text(")");
</script>
</body></html>
